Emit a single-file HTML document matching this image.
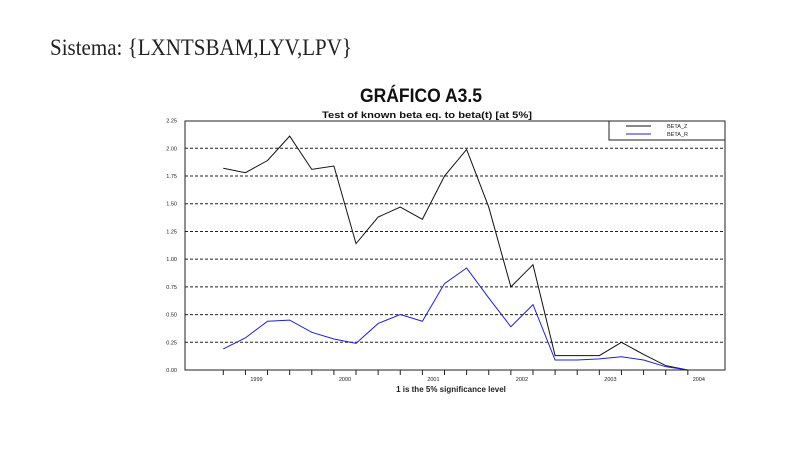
<!DOCTYPE html>
<html><head><meta charset="utf-8"><style>
body{margin:0;background:#fff;}
svg{display:block;}
</style></head><body>
<svg id="chart" width="808" height="459" xmlns="http://www.w3.org/2000/svg">
<text x="50" y="55" font-family="Liberation Serif, serif" font-size="23" textLength="302" lengthAdjust="spacingAndGlyphs" fill="#222">Sistema: {LXNTSBAM,LYV,LPV}</text>
<text x="421" y="102" text-anchor="middle" font-family="Liberation Sans, sans-serif" font-weight="bold" font-size="19" textLength="122" lengthAdjust="spacingAndGlyphs" fill="#111">GRÁFICO A3.5</text>
<text x="427" y="118" text-anchor="middle" font-family="Liberation Sans, sans-serif" font-weight="bold" font-size="9.5" textLength="210" lengthAdjust="spacingAndGlyphs" fill="#111">Test of known beta eq. to beta(t) [at 5%]</text>
<g id="grid"></g>
<g id="yticks"></g>
<g id="xticks"></g>
<g id="series"></g>
<rect x="185" y="121" width="540" height="249" fill="none" stroke="#222" stroke-width="1"/>
<g>
<rect x="609" y="121" width="116" height="19" fill="#fff" stroke="#222" stroke-width="1"/>
<line x1="626" y1="126" x2="651" y2="126" stroke="#111" stroke-width="1"/>
<text x="667" y="128" font-family="Liberation Sans, sans-serif" font-size="5.5" fill="#222">BETA_Z</text>
<line x1="626" y1="134" x2="651" y2="134" stroke="#2020d0" stroke-width="1"/>
<text x="667" y="136" font-family="Liberation Sans, sans-serif" font-size="5.5" fill="#222">BETA_R</text>
</g>
<text x="451" y="392" text-anchor="middle" font-family="Liberation Sans, sans-serif" font-weight="bold" font-size="8" fill="#222">1 is the 5% significance level</text>
</svg>
<script>
const betaZ=[1.82,1.78,1.89,2.11,1.81,1.84,1.14,1.38,1.47,1.36,1.75,1.99,1.47,0.75,0.95,0.13,0.13,0.13,0.25,0.14,0.04,0.0];
const betaR=[0.19,0.29,0.44,0.45,0.34,0.28,0.24,0.42,0.50,0.44,0.78,0.92,0.65,0.39,0.59,0.09,0.09,0.10,0.12,0.09,0.03,0.0];
const yTicks=[0,0.25,0.5,0.75,1.0,1.25,1.5,1.75,2.0,2.25];
const yearLabels=["1999","2000","2001","2002","2003","2004"];
const NS="http://www.w3.org/2000/svg";
const x0=223.3,dx=22.12,yB=370,yT=120.6,vMax=2.25;
function xs(i){return x0+dx*i;}
function ys(v){return yB-(v/vMax)*(yB-yT);}
function mk(tag,attrs,parent){const e=document.createElementNS(NS,tag);for(const k in attrs)e.setAttribute(k,attrs[k]);parent.appendChild(e);return e;}
const grid=document.getElementById('grid'),yt=document.getElementById('yticks'),xt=document.getElementById('xticks'),ser=document.getElementById('series');
yTicks.forEach(v=>{
  const y=ys(v);
  if(v>0&&v<2.25){const l=mk('line',{x1:185,x2:725,y1:y,y2:y,stroke:'#222','stroke-width':1,'stroke-dasharray':'3,2'},grid);
  
  }
  const t=mk('text',{x:177,y:y+2,'text-anchor':'end','font-family':'Liberation Sans, sans-serif','font-size':'5.5',fill:'#222'},yt);
  t.textContent=v.toFixed(2);
  
  
});
for(let i=0;i<betaZ.length;i++){
  const l=mk('line',{x1:xs(i),x2:xs(i),y1:370,y2:375,stroke:'#222','stroke-width':1},xt);
  
  
}
yearLabels.forEach((lab,k)=>{
  const t=mk('text',{x:xs(1.5+4*k),y:381,'text-anchor':'middle','font-family':'Liberation Sans, sans-serif','font-size':'5.5',fill:'#222'},xt);
  t.textContent=lab;
  
  
});
function line(arr,color,name){
  const p=mk('polyline',{points:arr.map((v,i)=>xs(i)+','+ys(v)).join(' '),fill:'none',stroke:color,'stroke-width':1},ser);
  
  
}
line(betaZ,'#111','series-beta-z');
line(betaR,'#2020d0','series-beta-r');
</script>
</body></html>
